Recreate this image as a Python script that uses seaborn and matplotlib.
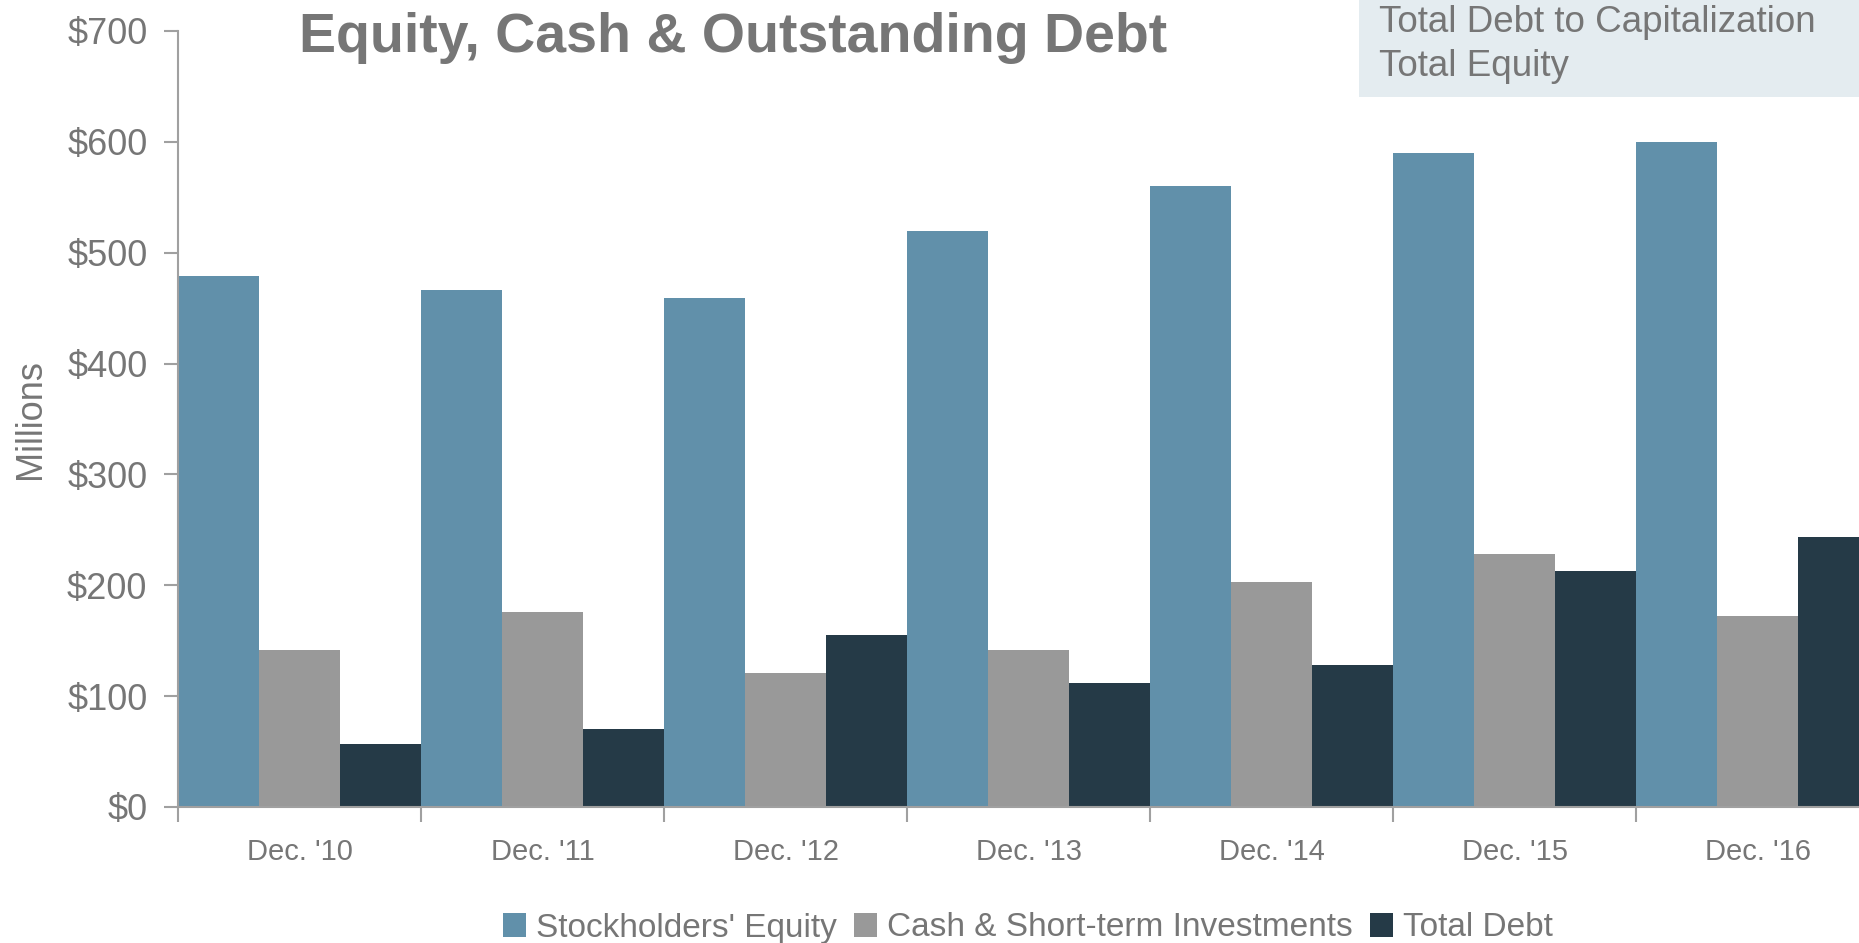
import numpy as np
import pandas as pd
import seaborn as sns
import matplotlib.pyplot as plt
from matplotlib.patches import Patch, Rectangle
from matplotlib.ticker import FixedLocator

years = ["Dec. '10", "Dec. '11", "Dec. '12", "Dec. '13", "Dec. '14", "Dec. '15", "Dec. '16"]
equity = [479, 466, 459, 520, 560, 590, 600]
cash = [142, 176, 121, 142, 203, 228, 172]
debt = [57, 70, 155, 112, 128, 213, 244]
series = ["Stockholders' Equity", "Cash & Short-term Investments", "Total Debt"]
colors = ['#6190AA', '#999999', '#253A47']
yticks = [0, 100, 200, 300, 400, 500, 600, 700]

df = pd.DataFrame({'Year': years * 3,
                   'Series': [series[0]] * 7 + [series[1]] * 7 + [series[2]] * 7,
                   'Value': equity + cash + debt})

sns.set_style('white')
plt.rcParams['font.family'] = ['Liberation Sans', 'DejaVu Sans']
grey = '#767676'

fig = plt.figure(figsize=(18.59, 9.43), dpi=100)
ax = fig.add_axes([178 / 1859, 136 / 943, 1 - 178 / 1859, (807 - 31) / 943])

sns.barplot(data=df, x='Year', y='Value', hue='Series', palette=colors,
            width=1.0, gap=0, saturation=1, linewidth=0, ax=ax, legend=False)

ax.set_xlim(-0.5, 6.417)
ax.set_ylim(0, 700)
ax.set_yticks(yticks)
ax.set_yticklabels([f'${v}' for v in yticks], fontsize=26, color=grey)
ax.set_xticks(range(7))
ax.set_xticklabels(years, fontsize=21, color=grey)
ax.xaxis.set_minor_locator(FixedLocator(np.arange(-0.5, 7, 1)))
ax.tick_params(axis='x', which='major', length=0, pad=22)
ax.tick_params(axis='x', which='minor', length=11, width=1.5, color='#A0A0A0', direction='out', bottom=True)
ax.tick_params(axis='y', length=10, width=1.5, color='#A0A0A0', left=True, pad=12)
ax.set_xlabel('')
ax.set_ylabel('Millions', fontsize=26, color=grey, labelpad=14)

for s in ['top', 'right']:
    ax.spines[s].set_visible(False)
for s in ['left', 'bottom']:
    ax.spines[s].set_color('#A0A0A0')
    ax.spines[s].set_linewidth(1.5)

fig.text(733 / 1859, 1 - 38 / 943, 'Equity, Cash & Outstanding Debt', ha='center', va='center',
         fontsize=40, fontweight='bold', color=grey)

fig.patches.append(Rectangle((1359 / 1859, 1 - 97 / 943), 500 / 1859, 97 / 943,
                             transform=fig.transFigure, facecolor='#E4ECF0', edgecolor='none', zorder=5))
fig.text(1379 / 1859, 1 - 22 / 943, 'Total Debt to Capitalization', ha='left', va='center',
         fontsize=26.5, color=grey, zorder=6)
fig.text(1379 / 1859, 1 - 67 / 943, 'Total Equity', ha='left', va='center',
         fontsize=26.5, color=grey, zorder=6)

handles = [Patch(facecolor=c, edgecolor='none') for c in colors]
leg = fig.legend(handles, series, loc='center', bbox_to_anchor=(1028 / 1859, 1 - 928 / 943), ncol=3,
                 frameon=False, handlelength=0.7, handleheight=0.7, handletextpad=0.3, columnspacing=0.5,
                 prop={'size': 24})
for t in leg.get_texts():
    t.set_color(grey)

fig.savefig('out.png', dpi=100)
